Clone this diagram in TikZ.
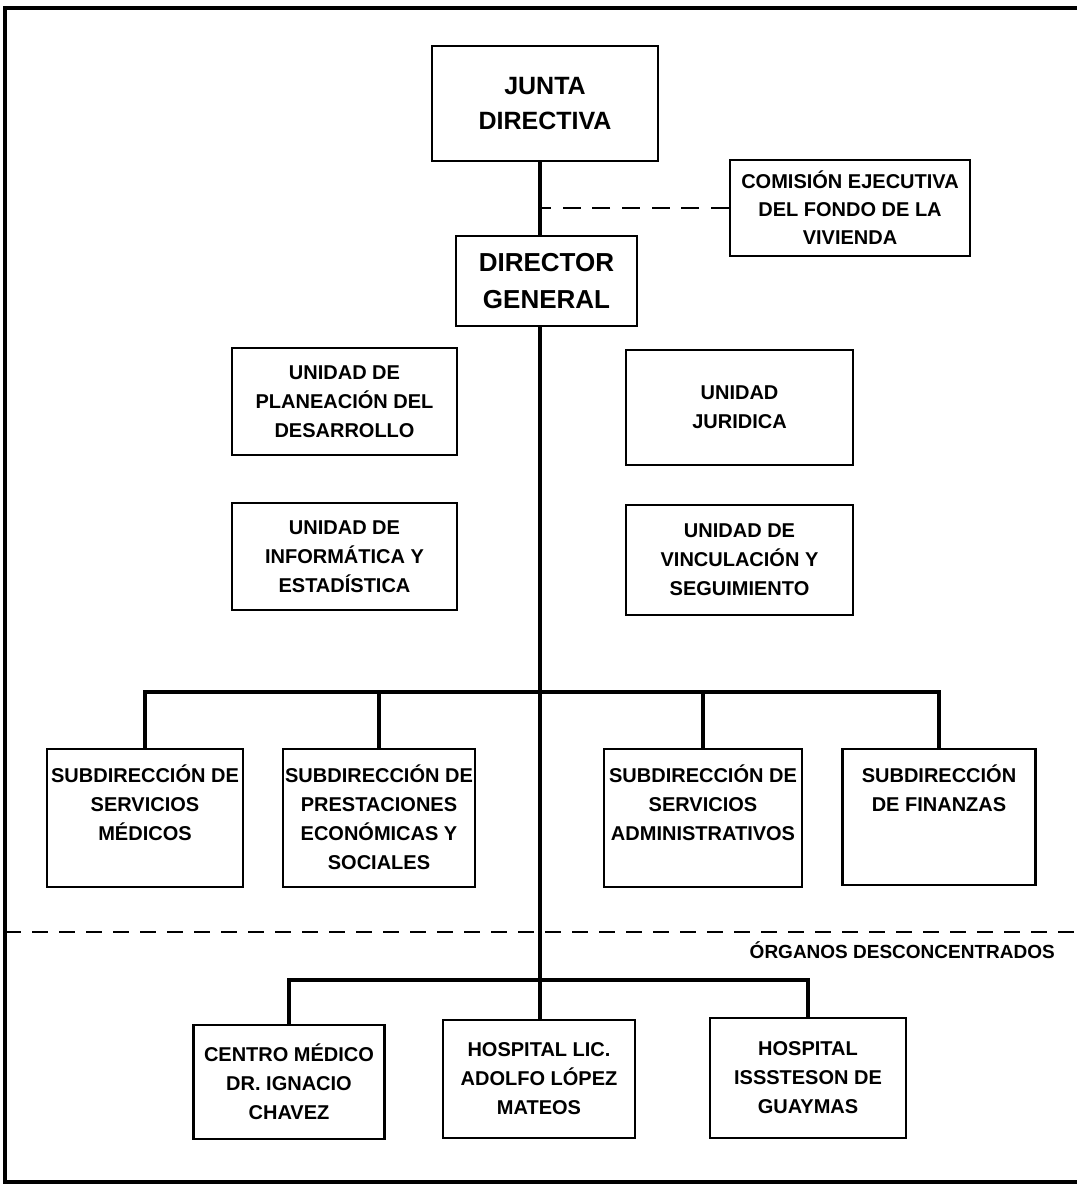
\documentclass[tikz,border=0pt]{standalone}
\usepackage{fontspec}
\setmainfont{Liberation Sans}
\begin{document}
\begin{tikzpicture}[x=1pt,y=-1pt,
		caja/.style={draw,line width=2.2pt,align=center,inner sep=0pt,font=\bfseries\fontsize{20}{29}\selectfont},
		texto/.style={align=center,inner sep=0pt,font=\bfseries\fontsize{20}{29}\selectfont},
		linea/.style={line width=4.5pt},
		guion/.style={line width=2.2pt,dash pattern=on 16pt off 11pt}]
			\useasboundingbox (0,0) rectangle (1077,1185);
			\draw[line width=3.5pt] (1077,8) -- (5,8) -- (5,1182) -- (1077,1182);
			\coordinate (eje) at (540,0);
			\node[caja,minimum width=226pt,minimum height=115pt,font=\bfseries\fontsize{25}{35}\selectfont] (junta) at (545,103.5) {JUNTA\\DIRECTIVA};
			\node[caja,minimum width=181pt,minimum height=90pt,font=\bfseries\fontsize{26}{37}\selectfont] (director) at (546.5,281) {DIRECTOR\\GENERAL};
			\node[caja,minimum width=240pt,minimum height=96pt,font=\bfseries\fontsize{20}{28}\selectfont] (comision) at (850,208) {COMISIÓN EJECUTIVA\\DEL FONDO DE LA\\VIVIENDA};
			\node[caja,minimum width=225pt,minimum height=107pt] (planeacion) at (344.5,401.5) {UNIDAD DE\\PLANEACIÓN DEL\\DESARROLLO};
			\node[caja,minimum width=225pt,minimum height=107pt] (informatica) at (344.5,556.5) {UNIDAD DE\\INFORMÁTICA Y\\ESTADÍSTICA};
			\node[caja,minimum width=227pt,minimum height=115pt] (juridica) at (739.5,407.5) {UNIDAD\\JURIDICA};
			\node[caja,minimum width=227pt,minimum height=110pt] (vinculacion) at (739.5,560) {UNIDAD DE\\VINCULACIÓN Y\\SEGUIMIENTO};
			\node[caja,minimum width=196pt,minimum height=138pt] (smed) at (145,818) {};
			\node[caja,minimum width=192pt,minimum height=138pt] (sprest) at (379,818) {};
			\node[caja,minimum width=198pt,minimum height=138pt] (sadmin) at (703,818) {};
			\node[caja,minimum width=193pt,minimum height=136pt] (sfin) at (939,817) {};
			\node[texto,anchor=north] (smedt) at ([yshift=-17pt]smed.north) {SUBDIRECCIÓN DE\\SERVICIOS\\MÉDICOS};
			\node[texto,anchor=north] (sprestt) at ([yshift=-17pt]sprest.north) {SUBDIRECCIÓN DE\\PRESTACIONES\\ECONÓMICAS Y\\SOCIALES};
			\node[texto,anchor=north] (sadmint) at ([yshift=-17pt]sadmin.north) {SUBDIRECCIÓN DE\\SERVICIOS\\ADMINISTRATIVOS};
			\node[texto,anchor=north] (sfint) at ([yshift=-17pt]sfin.north) {SUBDIRECCIÓN\\DE FINANZAS};
			\node[caja,minimum width=191pt,minimum height=114pt] (cmedico) at (289,1082) {CENTRO MÉDICO\\DR. IGNACIO\\CHAVEZ};
			\node[caja,minimum width=192pt,minimum height=118pt] (hlopez) at (539,1079) {HOSPITAL LIC.\\ADOLFO LÓPEZ\\MATEOS};
			\node[caja,minimum width=196pt,minimum height=120pt] (hguay) at (808,1078) {HOSPITAL\\ISSSTESON DE\\GUAYMAS};
			\draw[linea] (junta.south -| eje) -- (director.north -| eje);
			\draw[guion,dash pattern=on 18pt off 11.67pt] (comision.west) -- (comision.west -| eje);
			\draw[linea] (director.south -| eje) -- (hlopez.north -| eje);
			\coordinate (barra) at (0,692);
			\draw[linea] (smed.north) -- (smed.north |- barra) -- (sfin.north |- barra) -- (sfin.north);
			\draw[linea] (sprest.north) -- (sprest.north |- barra);
			\draw[linea] (sadmin.north) -- (sadmin.north |- barra);
			\coordinate (barrah) at (0,980);
			\draw[linea] (cmedico.north) -- (cmedico.north |- barrah) -- (hguay.north |- barrah) -- (hguay.north);
			\coordinate (sepizq) at (5,932);
			\coordinate (sepder) at (1077,932);
			\draw[guion] (sepizq) -- (sepder);
			\node[anchor=base east,inner sep=0pt,font=\bfseries\fontsize{19}{24}\selectfont] (organos) at (1055,958) {ÓRGANOS DESCONCENTRADOS};
		\end{tikzpicture}
\end{document}
